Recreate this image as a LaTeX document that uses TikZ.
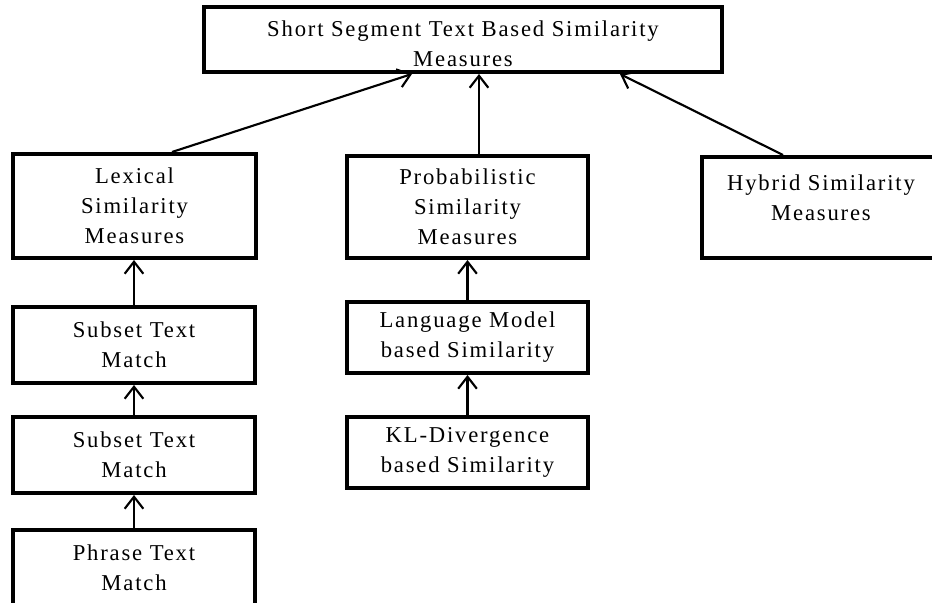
\documentclass[tikz,border=0pt]{standalone}
\usepackage{fontspec}
\setmainfont{Liberation Serif}[LetterSpace=8]
\usetikzlibrary{arrows.meta,calc}
\begin{document}
\begin{tikzpicture}[x=0.75pt,y=-0.75pt,
  box/.style={draw=black, line width=3pt, fill=white, align=center,
    inner sep=0pt, font=\fontsize{17}{22.5}\selectfont},
  widebox/.style={box, minimum width=181.5pt},
  conn/.style={line width=1.6pt,
    -{Straight Barb[length=9pt,width=14pt,line width=1.6pt]}}]
\useasboundingbox (0,0) rectangle (932,603);
\clip (0,0) rectangle (932,603);

% root
\node[box, minimum width=388.5pt, minimum height=48.75pt, text height=41pt]
  (top) at (463,39.5) {Short Segment Text Based Similarity\\Measures};

% second level
\node[box, minimum width=182.25pt, minimum height=78pt]
  (lex) at (134.5,206) {Lexical\\Similarity\\Measures};
\node[box, minimum width=180.75pt, minimum height=76.5pt]
  (prob) at (467.5,207) {Probabilistic\\Similarity\\Measures};
\node[box, minimum width=178.5pt, minimum height=75.75pt, text depth=14.5pt]
  (hyb) at (821,207.5) {Hybrid Similarity\\Measures};

% lexical branch
\node[widebox, minimum height=57pt] (sub1) at (134,345) {Subset Text\\Match};
\node[widebox, minimum height=57pt] (sub2) at (134,455) {Subset Text\\Match};
\node[widebox, minimum height=57pt] (phr) at (134,568) {Phrase Text\\Match};

% probabilistic branch
\node[box, minimum width=180.75pt, minimum height=53.25pt]
  (lm) at (467.5,337.5) {Language Model\\based Similarity};
\node[box, minimum width=180.75pt, minimum height=53.25pt]
  (kl) at (467.5,452.5) {KL-Divergence\\based Similarity};

% connectors to the root
\draw[conn] ($(lex.north)+(37.5,0)$) -- ($(top.south)+(-51,0)$);
\coordinate (pm) at ($(prob.north)+(11.5,0)$);
\draw[conn] (pm) -- (pm |- top.south);
\draw[conn] ($(hyb.north)+(-38,0)$) -- ($(top.south)+(157,0)$);

% chains
\draw[conn] (sub1.north) -- (sub1.north |- lex.south);
\draw[conn] (sub2.north) -- (sub1.south);
\draw[conn] (phr.north) -- (sub2.south);
\draw[conn] (lm.north) -- (prob.south);
\draw[conn] (kl.north) -- (lm.south);
\end{tikzpicture}
\end{document}
